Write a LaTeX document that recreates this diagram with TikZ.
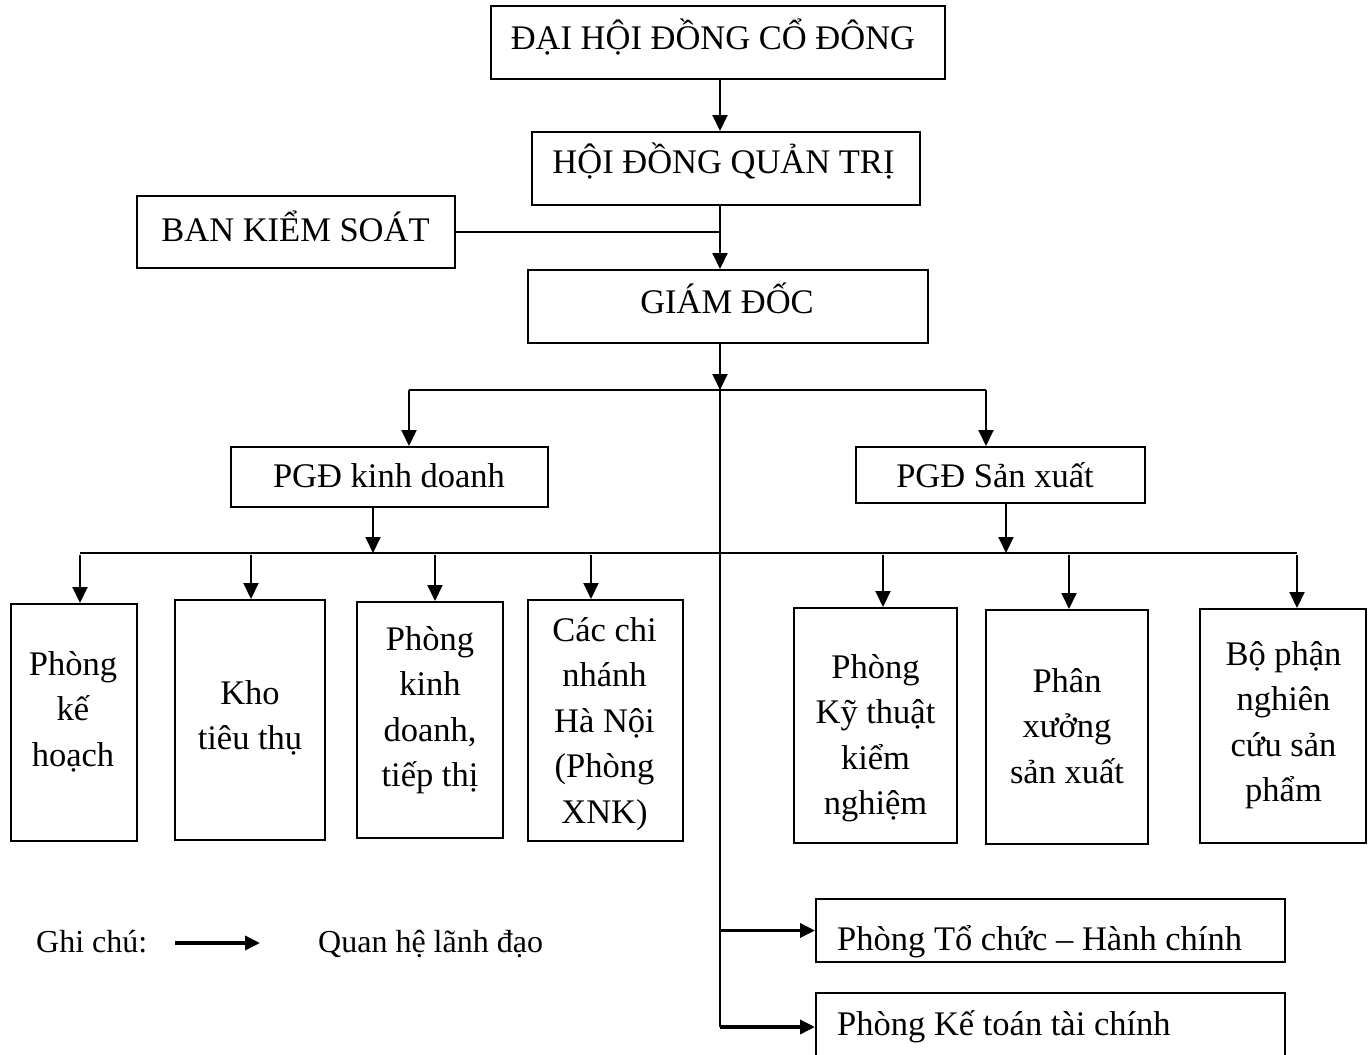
\documentclass[tikz,border=0pt]{standalone}
\usepackage{fontspec}
\setmainfont{Liberation Serif}
\usetikzlibrary{arrows.meta}
% centred lines stacked at a fixed baseline distance; baseline = first line
\newcommand\stack[1]{\vtop{\lineskiplimit=-100pt\let\\\cr\halign{\hfil##\hfil\cr#1\crcr}}}
\begin{document}
\begin{tikzpicture}[x=1pt,y=-1pt,
  box/.style={draw, line width=2pt, inner sep=0pt},
  lbl/.style={font=\fontsize{34.5pt}{45.5pt}\selectfont, inner sep=0pt, anchor=base},
  note/.style={font=\fontsize{32pt}{40pt}\selectfont, inner sep=0pt, anchor=base west},
  ln/.style={line width=2pt},
  arr/.style={line width=2pt, -{Triangle[length=16pt,width=15pt]}},
  arrthick/.style={line width=3.5pt, -{Triangle[length=15pt,width=14pt]}}]
\useasboundingbox (0,0) rectangle (1369,1055);
\clip (0,0) rectangle (1369,1055);

% ---- boxes ----
\node[box, minimum width=454pt, minimum height=73pt] (dh)  at (718,42.5) {};
\node[box, minimum width=388pt, minimum height=73pt] (hd)  at (726,168.5) {};
\node[box, minimum width=318pt, minimum height=72pt] (bks) at (296,232) {};
\node[box, minimum width=400pt, minimum height=73pt] (gd)  at (728,306.5) {};
\node[box, minimum width=317pt, minimum height=60pt] (kd)  at (389.5,477) {};
\node[box, minimum width=289pt, minimum height=56pt] (sx)  at (1000.5,475) {};
\node[box, minimum width=126pt, minimum height=237pt] (pkh) at (74,722.5) {};
\node[box, minimum width=150pt, minimum height=240pt] (kho) at (250,720) {};
\node[box, minimum width=146pt, minimum height=236pt] (pkd) at (430,720) {};
\node[box, minimum width=155pt, minimum height=241pt] (ccn) at (605.5,720.5) {};
\node[box, minimum width=163pt, minimum height=235pt] (pkt) at (875.5,725.5) {};
\node[box, minimum width=162pt, minimum height=234pt] (px)  at (1067,727) {};
\node[box, minimum width=166pt, minimum height=234pt] (bp)  at (1283,726) {};
\node[box, minimum width=469pt, minimum height=63pt] (tc)  at (1050.5,930.5) {};
\node[box, minimum width=469pt, minimum height=82pt] (kt)  at (1050.5,1034) {};

% ---- texts ----
\node[lbl] (dh-t)  at (713,49)    {ĐẠI HỘI ĐỒNG CỔ ĐÔNG};
\node[lbl] (hd-t)  at (723.5,173) {HỘI ĐỒNG QUẢN TRỊ};
\node[lbl] (bks-t) at (295.5,241) {BAN KIỂM SOÁT};
\node[lbl] (gd-t)  at (727,313)   {GIÁM ĐỐC};
\node[lbl] (kd-t)  at (389,487)   {PGĐ kinh doanh};
\node[lbl] (sx-t)  at (995,487)   {PGĐ Sản xuất};
\node[lbl] (pkh-t) at (73,675)    {\stack{Phòng\\kế\\hoạch}};
\node[lbl] (kho-t) at (250,704)   {\stack{Kho\\tiêu thụ}};
\node[lbl] (pkd-t) at (430,650)   {\stack{Phòng\\kinh\\doanh,\\tiếp thị}};
\node[lbl] (ccn-t) at (604.5,641) {\stack{Các chi\\nhánh\\Hà Nội\\(Phòng\\XNK)}};
\node[lbl] (pkt-t) at (875.5,678) {\stack{Phòng\\Kỹ thuật\\kiểm\\nghiệm}};
\node[lbl] (px-t)  at (1067,692)  {\stack{Phân\\xưởng\\sản xuất}};
\node[lbl] (bp-t)  at (1283.5,665){\stack{Bộ phận\\nghiên\\cứu sản\\phẩm}};
\node[lbl, anchor=base west] (tc-t) at (837,950)  {Phòng Tổ chức – Hành chính};
\node[lbl, anchor=base west] (kt-t) at (837,1035) {Phòng Kế toán tài chính};

% ---- legend ----
\node[note] (gc) at (36,952) {Ghi chú:};
\node[note] (qh) at (318,952) {Quan hệ lãnh đạo};
\coordinate (lg1) at (175,943);
\coordinate (lg2) at (260,943);
\draw[arrthick] (lg1) -- (lg2);

% ---- connectors ----
\coordinate (sp)  at (720,390);   % junction below the director
\coordinate (se)  at (720,1027);  % lower end of the spine
\coordinate (bl)  at (409,390);
\coordinate (br)  at (986,390);
\coordinate (ll)  at (80,553);
\coordinate (lr)  at (1297,553);
\coordinate (kdd) at (373,553);
\coordinate (sxd) at (1006,553);

\draw[arr] (dh.south -| sp) -- (hd.north -| sp);
\draw[arr] (hd.south -| sp) -- (gd.north -| sp);
\draw[ln]  (bks.east) -- (bks.east -| sp);
\draw[arr] (gd.south -| sp) -- (sp);
\draw[ln]  (bl) -- (br);
\draw[arr] (bl) -- (bl |- kd.north);
\draw[arr] (br) -- (br |- sx.north);
\draw[arr] (kd.south -| kdd) -- (kdd);
\draw[arr] (sx.south -| sxd) -- (sxd);
\draw[ln]  (ll) -- (lr);

\coordinate (d1) at (80,555);
\coordinate (d2) at (251,555);
\coordinate (d3) at (435,555);
\coordinate (d4) at (591,555);
\coordinate (d5) at (883,555);
\coordinate (d6) at (1069,555);
\coordinate (d7) at (1297,555);
\draw[arr] (d1) -- (d1 |- pkh.north);
\draw[arr] (d2) -- (d2 |- kho.north);
\draw[arr] (d3) -- (d3 |- pkd.north);
\draw[arr] (d4) -- (d4 |- ccn.north);
\draw[arr] (d5) -- (d5 |- pkt.north);
\draw[arr] (d6) -- (d6 |- px.north);
\draw[arr] (d7) -- (d7 |- bp.north);

\draw[ln] (sp) -- (se);
\draw[arrthick] (sp |- tc.west) -- (tc.west);
\draw[arrthick] (se) -- (se -| kt.west);
\end{tikzpicture}
\end{document}
